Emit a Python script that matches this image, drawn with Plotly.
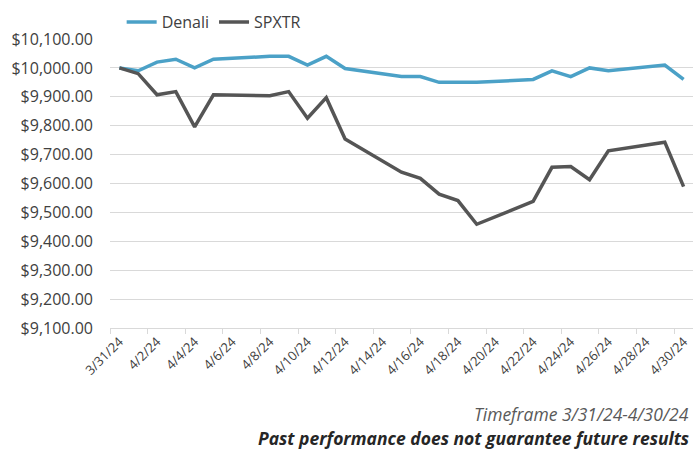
import plotly.graph_objects as go

# Daily closing values of a $10,000 investment, April 2024
dates = [
    "2024-03-31", "2024-04-01", "2024-04-02", "2024-04-03", "2024-04-04",
    "2024-04-05", "2024-04-08", "2024-04-09", "2024-04-10", "2024-04-11",
    "2024-04-12", "2024-04-15", "2024-04-16", "2024-04-17", "2024-04-18",
    "2024-04-19", "2024-04-22", "2024-04-23", "2024-04-24", "2024-04-25",
    "2024-04-26", "2024-04-29", "2024-04-30",
]
denali = [
    10000, 9990, 10020, 10030, 10000,
    10030, 10040, 10040, 10010, 10040,
    9998, 9970, 9970, 9950, 9950,
    9950, 9960, 9990, 9970, 10000,
    9990, 10010, 9960,
]
spxtr = [
    10000, 9980, 9907, 9918, 9796,
    9907, 9904, 9918, 9826, 9897,
    9754, 9639, 9618, 9563, 9541,
    9459, 9538, 9656, 9659, 9613,
    9713, 9743, 9589,
]

tick_dates = [
    "2024-03-31", "2024-04-02", "2024-04-04", "2024-04-06", "2024-04-08",
    "2024-04-10", "2024-04-12", "2024-04-14", "2024-04-16", "2024-04-18",
    "2024-04-20", "2024-04-22", "2024-04-24", "2024-04-26", "2024-04-28",
    "2024-04-30",
]
tick_labels = [
    "3/31/24", "4/2/24", "4/4/24", "4/6/24", "4/8/24", "4/10/24", "4/12/24",
    "4/14/24", "4/16/24", "4/18/24", "4/20/24", "4/22/24", "4/24/24",
    "4/26/24", "4/28/24", "4/30/24",
]

FONT = "Open Sans"
TEXT = "#404040"

fig = go.Figure()
fig.add_trace(go.Scatter(
    x=dates, y=denali, name="Denali", mode="lines",
    line=dict(color="#4BA1C7", width=3.5),
))
fig.add_trace(go.Scatter(
    x=dates, y=spxtr, name="SPXTR", mode="lines",
    line=dict(color="#555555", width=3.5),
))

fig.update_layout(
    width=693, height=452,
    margin=dict(l=110, r=0, t=39, b=124),
    paper_bgcolor="white", plot_bgcolor="white",
    font=dict(family=FONT, color=TEXT, size=14),
    showlegend=True,
    legend=dict(
        orientation="h", x=0.02, y=1.0, xanchor="left", yanchor="bottom",
        font=dict(size=16, color=TEXT), itemwidth=30,
        bgcolor="rgba(0,0,0,0)",
    ),
    annotations=[
        dict(
            text="<i>Timeframe 3/31/24-4/30/24</i>", xref="paper", yref="paper",
            x=1, y=-0.2976, xanchor="right", yanchor="middle", showarrow=False,
            xshift=-3, borderpad=0,
            font=dict(size=17.5, color="#595959", family=FONT),
        ),
        dict(
            text="<b><i>Past performance does not guarantee future results</i></b>",
            xref="paper", yref="paper",
            x=1, y=-0.3806, xanchor="right", yanchor="middle", showarrow=False,
            xshift=-3, borderpad=0,
            font=dict(size=17.5, color="#262626", family=FONT),
        ),
    ],
)

fig.update_xaxes(
    type="date",
    range=["2024-03-30 12:00", "2024-04-30 12:00"],
    tickmode="array", tickvals=tick_dates, ticktext=tick_labels,
    tickangle=-45, ticks="", tickfont=dict(size=13, color=TEXT),
    showgrid=False, showline=True, linecolor="#d9d9d9", linewidth=1,
    minor=dict(
        ticks="outside", ticklen=5, tickcolor="#d9d9d9", tickwidth=1,
        tick0="2024-03-30 12:00", dtick=2 * 86400000, showgrid=False,
    ),
    fixedrange=True,
)
fig.update_yaxes(
    range=[9100, 10100], dtick=100, tick0=9100,
    tickprefix="$", tickformat=",.2f",
    showgrid=True, gridcolor="#d9d9d9", gridwidth=1,
    zeroline=False, ticks="", ticklabelstandoff=16,
    tickfont=dict(size=16, color=TEXT),
    fixedrange=True,
)

fig.write_html("out.html")
